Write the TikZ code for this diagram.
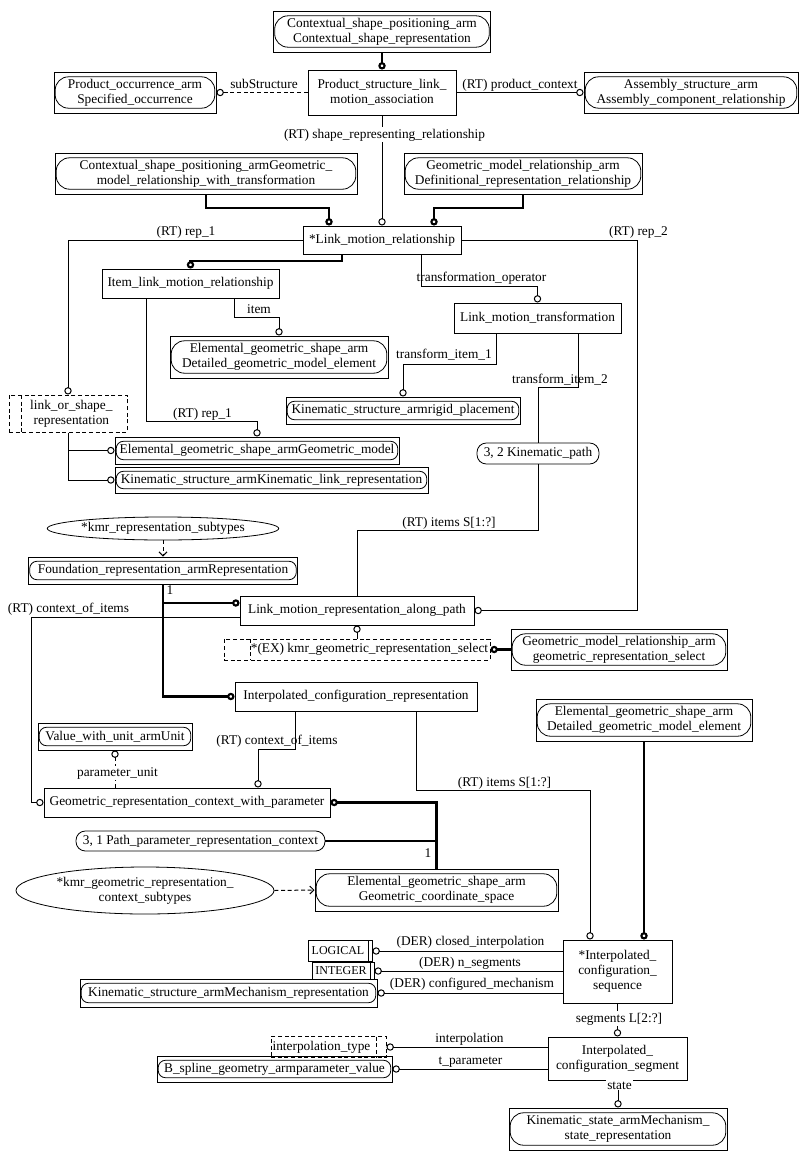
\documentclass[tikz,border=0pt]{standalone}
\usepackage{fontspec}
\setmainfont{Liberation Serif}
\usetikzlibrary{arrows.meta,shapes.geometric,calc}
\begin{document}
\begin{tikzpicture}[x=0.75pt,y=-0.75pt,
  every node/.style={font=\fontsize{10}{11.25}\selectfont},
  wh/.style 2 args={minimum width=#1*0.75pt, minimum height=#2*0.75pt},
  ent/.style={draw, line width=0.75pt, rectangle, inner sep=0pt, align=center},
  armb/.style={ent, path picture={\draw[line width=0.6pt, rounded corners=#1] ([shift={(0.9pt,-3.6pt)}]path picture bounding box.north west) rectangle ([shift={(-0.9pt,3.6pt)}]path picture bounding box.south east);}},
  armb/.default=10pt,
  arms/.style={ent, path picture={\draw[line width=0.6pt, rounded corners=5.5pt] ([shift={(0.9pt,-3.2pt)}]path picture bounding box.north west) rectangle ([shift={(-0.9pt,3.2pt)}]path picture bounding box.south east);}},
  pref/.style={draw, line width=0.6pt, rounded corners=7pt, inner sep=0pt, align=center},
  dsh/.style={dash pattern=on 3pt off 2pt},
  selb/.style={ent, dsh, path picture={\draw[dsh, line width=0.75pt] ([xshift=#1]path picture bounding box.north west) -- ([xshift=#1]path picture bounding box.south west);}},
  enumb/.style={ent, dsh, path picture={\draw[dsh, line width=0.75pt] ([xshift=-#1]path picture bounding box.north east) -- ([xshift=-#1]path picture bounding box.south east);}},
  simpb/.style={ent, font=\fontsize{9}{10}\selectfont, path picture={\draw[line width=0.75pt] ([xshift=-3pt]path picture bounding box.north east) -- ([xshift=-3pt]path picture bounding box.south east);}},
  ell/.style={draw, ellipse, line width=0.6pt, inner sep=0pt, align=center},
  lbl/.style={inner sep=0pt, anchor=base},
  lblw/.style={inner sep=1pt, anchor=base, fill=white},
  conn/.style={line width=0.75pt, -{Circle[open,length=5.5pt]}},
  plain/.style={line width=0.75pt},
  thk/.style={line width=1.6pt, -{Circle[open,length=5.5pt]}},
  thkp/.style={line width=1.6pt},
  barb/.style={-{Straight Barb[length=3pt,width=6pt]}}
]
\useasboundingbox (0,0) rectangle (808,1160);

% ---------- nodes ----------
\node[armb, wh={217}{41}] (csp) at (382,31.5) {Contextual\_shape\_positioning\_arm\\Contextual\_shape\_representation};
\node[armb, wh={162}{41}] (poa) at (135,92.5) {Product\_occurrence\_arm\\Specified\_occurrence};
\node[ent, wh={148}{45}] (pslma) at (382,92.5) {Product\_structure\_link\_\\motion\_association};
\node[armb, wh={214}{41}] (asa) at (691,92.5) {Assembly\_structure\_arm\\Assembly\_component\_relationship};
\node[armb, wh={302}{41}] (cspg) at (206,173.5) {Contextual\_shape\_positioning\_armGeometric\_\\model\_relationship\_with\_transformation};
\node[armb, wh={238}{41}] (gmrd) at (523,173.5) {Geometric\_model\_relationship\_arm\\Definitional\_representation\_relationship};
\node[ent, wh={158}{28}] (lmr) at (382,240) {*Link\_motion\_relationship};
\node[ent, wh={177}{29}] (ilmr) at (190.5,283.5) {Item\_link\_motion\_relationship};
\node[ent, wh={167}{30}] (lmt) at (537.5,318) {Link\_motion\_transformation};
\node[armb, wh={218}{42}] (dgme1) at (279,357) {Elemental\_geometric\_shape\_arm\\Detailed\_geometric\_model\_element};
\node[arms, wh={234}{27}] (rp) at (403,410.5) {Kinematic\_structure\_armrigid\_placement};
\node[pref, wh={122}{21}] (kp) at (538,453.5) {3, 2 Kinematic\_path};
\node[selb=9pt, wh={118}{37}] (losr) at (68,413.5) {\hspace*{5pt}link\_or\_shape\_\\\hspace*{5pt}representation};
\node[arms, wh={284}{27}] (gm) at (257,450.5) {Elemental\_geometric\_shape\_armGeometric\_model};
\node[arms, wh={313}{26}] (klr) at (271.5,480) {Kinematic\_structure\_armKinematic\_link\_representation};
\node[ell, wh={230}{23}] (krs) at (163,528.5) {*kmr\_representation\_subtypes};
\node[arms, wh={269}{27}] (fra) at (163,570.5) {Foundation\_representation\_armRepresentation};
\node[ent, wh={234}{29}] (lmrap) at (357,610.5) {Link\_motion\_representation\_along\_path};
\node[selb=19.5pt, wh={266}{21}] (exs) at (357,649.5) {\hspace*{18.75pt}*(EX) kmr\_geometric\_representation\_select};
\node[armb, wh={216}{41}] (grs) at (619,649.5) {Geometric\_model\_relationship\_arm\\geometric\_representation\_select};
\node[ent, wh={242}{29}] (icr) at (356,696.5) {Interpolated\_configuration\_representation};
\node[armb, wh={216}{42}] (dgme2) at (644,720) {Elemental\_geometric\_shape\_arm\\Detailed\_geometric\_model\_element};
\node[arms, wh={154}{27}] (vwu) at (115,736.5) {Value\_with\_unit\_armUnit};
\node[ent, wh={286}{29}] (grc) at (187,802.5) {Geometric\_representation\_context\_with\_parameter};
\node[pref, wh={249}{20}] (ppr) at (200.5,841) {3, 1 Path\_parameter\_representation\_context};
\node[ell, wh={258}{47}] (kgr) at (145,890.5) {*kmr\_geometric\_representation\_\\context\_subtypes};
\node[armb, wh={243}{42}] (gcs) at (436.5,890) {Elemental\_geometric\_shape\_arm\\Geometric\_coordinate\_space};
\node[ent, wh={109}{63}] (ics) at (617.5,971.5) {*Interpolated\_\\configuration\_\\sequence};
\node[simpb, wh={64}{21}] (logi) at (340,951) {LOGICAL\hspace*{3pt}};
\node[simpb, wh={62}{17}] (intg) at (343,971) {INTEGER\hspace*{3pt}};
\node[arms, wh={297}{28}] (mr) at (228.5,993) {Kinematic\_structure\_armMechanism\_representation};
\node[ent, wh={139}{43}] (seg) at (617.5,1058.5) {Interpolated\_\\configuration\_segment};
\node[enumb=7.5pt, wh={115}{21}] (ityp) at (328.5,1047) {interpolation\_type\hspace*{10.5pt}};
\node[arms, wh={235}{26}] (bsg) at (274.5,1069) {B\_spline\_geometry\_armparameter\_value};
\node[armb, wh={218}{42}] (ksm) at (618,1129) {Kinematic\_state\_armMechanism\_\\state\_representation};

% ---------- connectors ----------
\draw[thk] (csp.south) -- (pslma.north);
\draw[conn, dsh] (pslma.west) -- (poa.east);
\node[lbl] (l1) at (264,88) {subStructure};
\draw[conn] (pslma.east) -- (asa.west);
\node[lbl] (l2) at (520,88) {(RT) product\_context};
\draw[conn] (pslma.south) -- (lmr.north);
\node[lblw] (l3) at (384.5,138) {(RT) shape\_representing\_relationship};

\draw[thk] (cspg.south) -- (206,208) -- (329,208) -- ($(lmr.north)+(-53,0)$);
\draw[thk] (gmrd.south) -- (523,208) -- (434,208) -- ($(lmr.north)+(52,0)$);

\draw[conn] (lmr.west) -- (68,240) -- (losr.north);
\node[lbl] (l4) at (186,235) {(RT) rep\_1};
\draw[conn] (lmr.east) -- (637,240) -- (637,610.5) -- (lmrap.east);
\node[lbl] (l5) at (638.5,235) {(RT) rep\_2};

\draw[thk] ($(lmr.south)+(-40,0)$) -- (342,261) -- (190.5,261) -- (ilmr.north);
\draw[conn] ($(lmr.south)+(39,0)$) -- (421,286) -- (537.5,286) -- (lmt.north);
\node[lbl] (l6) at (481.5,281) {transformation\_operator};

\draw[conn] ($(ilmr.south)+(43.5,0)$) -- (234,317) -- (279,317) -- (dgme1.north);
\node[lbl] (l7) at (259,313) {item};

\draw[conn] ($(lmt.south)+(-41.5,0)$) -- (496,364) -- (403,364) -- (rp.north);
\node[lbl] (l8) at (444,358) {transform\_item\_1};
\draw[plain] ($(lmt.south)+(40.5,0)$) -- (578,387) -- (538,387) -- (kp.north);
\node[lbl] (l9) at (560,383) {transform\_item\_2};
\draw[plain] (kp.south) -- (538,530) -- (357,530) -- (lmrap.north);
\node[lbl] (l10) at (449,526) {(RT) items S[1:?]};

\draw[conn] ($(ilmr.south)+(-44.5,0)$) -- (146,421) -- (257,421) -- (gm.north);
\node[lbl] (l11) at (202.5,417) {(RT) rep\_1};

\coordinate (j1) at (68,450.5);
\draw[conn] (losr.south) -- (68,480) -- (klr.west);
\draw[conn] (j1) -- (gm.west);

\draw[plain, dsh, barb] (krs.south) -- (fra.north);

\coordinate (j2) at (163,603);
\draw[thk] (fra.south) -- (163,696.5) -- (icr.west);
\draw[thk] (j2) -- ($(lmrap.west)+(0,-7.5)$);
\node[lbl] (l12) at (170,594) {1};

\draw[conn] ($(lmrap.west)+(0,6.5)$) -- (31,617) -- (31,802.5) -- (grc.west);
\node[lbl] (l13) at (68.5,612) {(RT) context\_of\_items};

\draw[conn] (exs.north) -- (lmrap.south);
\draw[thk] (grs.west) -- (exs.east);

\draw[conn] ($(icr.south)+(-61,0)$) -- (295,749) -- (258,749) -- ($(grc.north)+(71,0)$);
\node[lbl] (l14) at (277,744) {(RT) context\_of\_items};

\draw[conn, dsh] ($(grc.north)+(-72,0)$) -- (vwu.south);
\node[lblw] (l15) at (117.5,776) {parameter\_unit};

\draw[conn] ($(icr.south)+(60,0)$) -- (416,790) -- (590,790) -- ($(ics.north)+(-27.5,0)$);
\node[lbl] (l16) at (504.5,786) {(RT) items S[1:?]};

\draw[thk] (dgme2.south) -- ($(ics.north)+(26.5,0)$);

\coordinate (j3) at (436.5,841);
\draw[thk] (gcs.north) -- (436.5,802.5) -- (grc.east);
\draw[thkp] (j3) -- (ppr.east);
\node[lbl] (l17) at (428,857) {1};

\draw[plain, dsh, barb] (kgr.east) -- (gcs.west);

\draw[conn] ($(ics.west)+(0,-20.5)$) -- (logi.east);
\node[lbl] (l18) at (470.5,945) {(DER) closed\_interpolation};
\draw[conn] ($(ics.west)+(0,-0.5)$) -- (intg.east);
\node[lbl] (l19) at (470,966) {(DER) n\_segments};
\draw[conn] ($(ics.west)+(0,21.5)$) -- (mr.east);
\node[lbl] (l20) at (472,987) {(DER) configured\_mechanism};

\draw[conn] (ics.south) -- (seg.north);
\node[lblw] (l21) at (619,1022) {segments L[2:?]};
\draw[conn] ($(seg.west)+(0,-11.5)$) -- (ityp.east);
\node[lbl] (l22) at (469.5,1042) {interpolation};
\draw[conn] ($(seg.west)+(0,10.5)$) -- (bsg.east);
\node[lbl] (l23) at (470.5,1064) {t\_parameter};
\draw[conn] ($(seg.south)+(0.5,0)$) -- (ksm.north);
\node[lblw] (l24) at (619.5,1089) {state};
\end{tikzpicture}
\end{document}
